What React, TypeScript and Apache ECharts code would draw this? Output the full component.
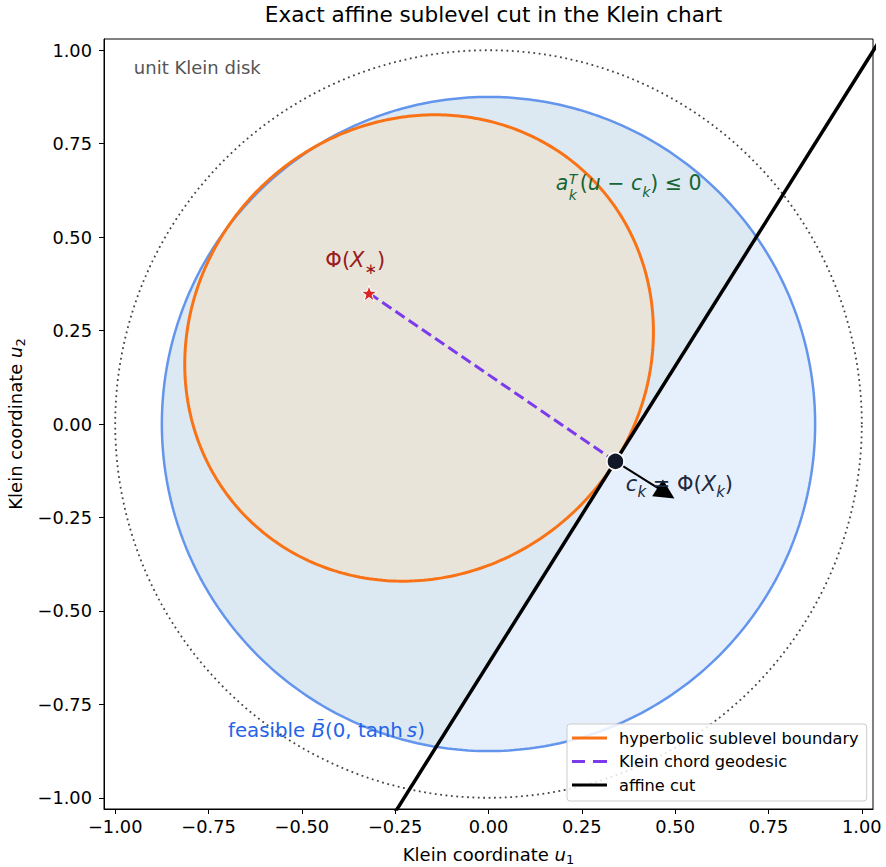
import React, { useEffect, useRef } from "react";
import * as echarts from "echarts";

// ---------- data ----------
const X_TICKS = [-1, -0.75, -0.5, -0.25, 0, 0.25, 0.5, 0.75, 1];
const Y_TICKS = [-1, -0.75, -0.5, -0.25, 0, 0.25, 0.5, 0.75, 1];
const AXIS_MIN = -1.03;
const AXIS_MAX = 1.03;
const UNIT_RADIUS = 1.0;
const FEASIBLE_RADIUS = 0.875; // tanh s
const PHI_XSTAR = [-0.32, 0.35]; // hyperbolic centre of the sublevel set
const C_K = [0.34, -0.1]; // query point on the sublevel boundary
const ARROW_LENGTH = 0.16;
const LEGEND_NAMES = ["hyperbolic sublevel boundary", "Klein chord geodesic", "affine cut"];
const LABEL_UNIT = [-0.95, 0.955];
const LABEL_HALFSPACE = [0.18, 0.644];
const LABEL_XSTAR = [-0.437, 0.438];
const LABEL_CK = [0.368, -0.16];
const LABEL_FEASIBLE = [-0.698, -0.821];

const FONT = "DejaVu Sans";

// ---------- geometry helpers ----------
const dot = (a: number[], b: number[]) => a[0] * b[0] + a[1] * b[1];

function circlePoints(r: number, n = 400): number[][] {
  const pts: number[][] = [];
  for (let i = 0; i <= n; i++) {
    const t = (2 * Math.PI * i) / n;
    pts.push([r * Math.cos(t), r * Math.sin(t)]);
  }
  return pts;
}

// Klein-model hyperbolic ball centred at p whose boundary passes through q0
function kleinBall(p: number[], q0: number[], n = 400) {
  const A = 1 - dot(p, p);
  const C2 = Math.pow(1 - dot(p, q0), 2) / (A * (1 - dot(q0, q0)));
  const K = C2 * A;
  const pts: number[][] = [];
  for (let i = 0; i <= n; i++) {
    const th = (2 * Math.PI * i) / n;
    const v = [Math.cos(th), Math.sin(th)];
    const b = dot(p, v);
    const a2 = b * b + K;
    const a1 = 2 * b * (K - A);
    const a0 = A * (A - K);
    const t = (-a1 + Math.sqrt(a1 * a1 - 4 * a2 * a0)) / (2 * a2);
    pts.push([p[0] + t * v[0], p[1] + t * v[1]]);
  }
  const grad = [
    -2 * (1 - dot(p, q0)) * p[0] + 2 * K * q0[0],
    -2 * (1 - dot(p, q0)) * p[1] + 2 * K * q0[1],
  ];
  const gl = Math.hypot(grad[0], grad[1]);
  return { pts, normal: [grad[0] / gl, grad[1] / gl] };
}

function clipHalfPlane(poly: number[][], n: number[], c: number[]) {
  const f = (q: number[]) => n[0] * (q[0] - c[0]) + n[1] * (q[1] - c[1]);
  const out: number[][] = [];
  for (let i = 0; i < poly.length; i++) {
    const a = poly[i];
    const b = poly[(i + 1) % poly.length];
    const fa = f(a);
    const fb = f(b);
    if (fa <= 0) out.push(a);
    if ((fa <= 0) !== (fb <= 0)) {
      const t = fa / (fa - fb);
      out.push([a[0] + t * (b[0] - a[0]), a[1] + t * (b[1] - a[1])]);
    }
  }
  return out;
}

const unitCircle = circlePoints(UNIT_RADIUS);
const feasibleCircle = circlePoints(FEASIBLE_RADIUS);
const ball = kleinBall(PHI_XSTAR, C_K);
const normal = ball.normal;
const cutDir = [-normal[1], normal[0]];
const cutLine = [
  [C_K[0] - 4 * cutDir[0], C_K[1] - 4 * cutDir[1]],
  [C_K[0] + 4 * cutDir[0], C_K[1] + 4 * cutDir[1]],
];
const halfDisk = clipHalfPlane(feasibleCircle, normal, C_K);
const arrowTip = [C_K[0] + ARROW_LENGTH * normal[0], C_K[1] + ARROW_LENGTH * normal[1]];

// ---------- text helpers ----------
function richSet(color: string, size: number, lhFactor = 1.5) {
  const lh = Math.round(size * lhFactor);
  const small = Math.round(size * 0.7);
  return {
    n: { fontFamily: FONT, fontSize: size, color, lineHeight: lh },
    i: { fontFamily: FONT, fontSize: size, color, fontStyle: "italic", lineHeight: lh },
    sub: { fontFamily: FONT, fontSize: small, color, fontStyle: "italic", verticalAlign: "bottom", lineHeight: lh },
    subn: { fontFamily: FONT, fontSize: small, color, verticalAlign: "bottom", lineHeight: lh },
    tiny: { fontFamily: FONT, fontSize: small, color, fontStyle: "italic", lineHeight: 11 },
  };
}

function textItem(pos: number[], formatter: string, color: string, size: number, offset = [0, 0]) {
  return {
    value: pos,
    label: {
      show: true,
      position: "right",
      distance: 0,
      offset,
      formatter,
      color,
      opacity: 1,
      fontFamily: FONT,
      fontSize: size,
      rich: richSet(color, size),
    },
  };
}

const tickFmt = (v: number) => (v < 0 ? "\u2212" : "") + Math.abs(v).toFixed(2);

const STAR_PATH =
  "path://M12,0 L14.8,8.3 L23.5,8.4 L16.5,13.6 L19.1,22 L12,16.9 L4.9,22 L7.5,13.6 L0.5,8.4 L9.2,8.3 Z";
const ICON_SOLID = "path://M0,0H35V3H0Z";
const ICON_DASHED = "path://M0,0H13V3H0Z M21,0H35V3H21Z";

const GREEN = "#166534";

export default function App() {
  const ref = useRef<HTMLDivElement>(null);
  useEffect(() => {
    if (!ref.current) return;
    const chart = echarts.init(ref.current, null, { renderer: "svg" });
    const axisCommon = {
      type: "value",
      min: AXIS_MIN,
      max: AXIS_MAX,
      splitLine: { show: false },
      axisLine: { show: true, onZero: false, lineStyle: { color: "#000", width: 1 } },
      nameLocation: "middle",
      nameTextStyle: {
        fontFamily: FONT,
        fontSize: 18,
        color: "#000",
        lineHeight: 23,
        rich: richSet("#000", 18, 1.3),
      },
    };
    chart.setOption({
      animation: false,
      backgroundColor: "#fff",
      title: {
        text: "Exact affine sublevel cut in the Klein chart",
        left: 488.5,
        top: -2,
        textAlign: "center",
        textStyle: { fontFamily: FONT, fontSize: 21.6, fontWeight: "normal", color: "#000" },
      },
      grid: {
        left: 104,
        top: 39,
        right: 13,
        bottom: 58,
        outerBoundsMode: "none",
        containLabel: false,
        show: true,
        borderColor: "#000",
        borderWidth: 1,
        backgroundColor: "transparent",
      },
      xAxis: {
        ...axisCommon,
        name: "Klein coordinate {i|u}{subn|1}",
        nameGap: 34,
        axisTick: { show: true, customValues: X_TICKS, length: 5, lineStyle: { color: "#000" } },
        axisLabel: {
          customValues: X_TICKS,
          formatter: tickFmt,
          fontFamily: FONT,
          fontSize: 17.8,
          color: "#000",
          margin: 8,
        },
      },
      yAxis: {
        ...axisCommon,
        name: "Klein coordinate {i|u}{subn|2}",
        nameGap: 73,
        nameRotate: 90,
        axisTick: { show: true, customValues: Y_TICKS, length: 5, lineStyle: { color: "#000" } },
        axisLabel: {
          customValues: Y_TICKS,
          formatter: tickFmt,
          fontFamily: FONT,
          fontSize: 17.8,
          color: "#000",
          margin: 12,
        },
      },
      legend: {
        data: [
          { name: LEGEND_NAMES[0], icon: ICON_SOLID },
          { name: LEGEND_NAMES[1], icon: ICON_DASHED },
          { name: LEGEND_NAMES[2], icon: ICON_SOLID },
        ],
        orient: "vertical",
        left: 567,
        top: 724,
        padding: [5, 8, 7, 5],
        itemWidth: 35,
        itemHeight: 3.5,
        itemGap: 5.5,
        borderColor: "#cccccc",
        borderWidth: 1,
        borderRadius: 3,
        backgroundColor: "rgba(255,255,255,0.85)",
        textStyle: { fontFamily: FONT, fontSize: 16.2, color: "#000", lineHeight: 18, padding: [0, 0, 0, 7] },
      },
      series: [
        {
          type: "custom",
          name: "fills",
          silent: true,
          z: 1,
          clip: true,
          data: [[0, 0]],
          renderItem: (_params: any, api: any) => {
            const px = (pts: number[][]) => pts.map((p) => api.coord(p));
            return {
              type: "group",
              children: [
                { type: "polygon", shape: { points: px(feasibleCircle) }, style: { fill: "#e6effc" } },
                { type: "polygon", shape: { points: px(halfDisk) }, style: { fill: "#dce9f3" } },
                { type: "polygon", shape: { points: px(ball.pts) }, style: { fill: "#e8e4da" } },
              ],
            };
          },
        },
        {
          type: "line",
          name: "unit disk",
          data: unitCircle,
          symbol: "none",
          silent: true,
          z: 2,
          lineStyle: { color: "#444", width: 1.8, type: [1.8, 3.6] },
        },
        {
          type: "line",
          name: "feasible ball",
          data: feasibleCircle,
          symbol: "none",
          silent: true,
          z: 3,
          lineStyle: { color: "#6495ed", width: 2.5 },
        },
        {
          type: "line",
          name: LEGEND_NAMES[0],
          data: ball.pts,
          symbol: "none",
          silent: true,
          z: 4,
          color: "#f97316",
          lineStyle: { color: "#f97316", width: 3 },
        },
        {
          type: "line",
          name: LEGEND_NAMES[2],
          data: cutLine,
          symbol: "none",
          silent: true,
          clip: true,
          z: 5,
          color: "#000",
          lineStyle: { color: "#000", width: 3.5 },
        },
        {
          type: "line",
          name: LEGEND_NAMES[1],
          data: [PHI_XSTAR, C_K],
          symbol: "none",
          silent: true,
          z: 6,
          color: "#7c3aed",
          lineStyle: { color: "#7c3aed", width: 3, type: [11, 5] },
        },
        {
          type: "lines",
          coordinateSystem: "cartesian2d",
          silent: true,
          z: 7,
          data: [{ coords: [C_K, arrowTip] }],
          symbol: ["none", "triangle"],
          symbolSize: [13, 20],
          lineStyle: { color: "#000", width: 2, opacity: 1 },
          itemStyle: { color: "#000" },
        },
        {
          type: "scatter",
          name: "ck",
          silent: true,
          z: 8,
          data: [C_K],
          symbol: "circle",
          symbolSize: 17,
          itemStyle: { color: "#111827", borderColor: "#fff", borderWidth: 1.5, opacity: 1 },
        },
        {
          type: "scatter",
          name: "xstar",
          silent: true,
          z: 8,
          data: [PHI_XSTAR],
          symbol: STAR_PATH,
          symbolSize: 16,
          itemStyle: { color: "#dc2626", borderColor: "#fff", borderWidth: 1, opacity: 1 },
        },
        {
          type: "scatter",
          name: "labels",
          silent: true,
          z: 9,
          symbolSize: 0,
          itemStyle: { color: "rgba(0,0,0,0)", opacity: 1 },
          data: [
            textItem(LABEL_UNIT, "{n|unit Klein disk}", "#555555", 18),
            textItem(LABEL_HALFSPACE, "{i|a}", GREEN, 20.5),
            textItem(LABEL_HALFSPACE, "{tiny|T}", GREEN, 20.5, [13, -4.5]),
            textItem(LABEL_HALFSPACE, "{tiny|k}", GREEN, 20.5, [13, 11.5]),
            textItem(LABEL_HALFSPACE, "{n|(}{i|u}{n| \u2212 }{i|c}{sub|k}{n|) \u2264 0}", GREEN, 20.5, [24, 0]),
            textItem(LABEL_XSTAR, "{n|\u03a6(}{i|X}{subn|\u2217}{n|)}", "#991b1b", 21),
            textItem(LABEL_CK, "{i|c}{sub|k}{n| = \u03a6(}{i|X}{sub|k}{n|)}", "#1e293b", 21),
            textItem(LABEL_FEASIBLE, "{n|feasible }{i|B\u0304}{n|(0, tanh\u2009}{i|s}{n|)}", "#2563eb", 19.8),
          ],
        },
      ],
    });
    return () => chart.dispose();
  }, []);
  return <div ref={ref} style={{ position: "fixed", left: 0, top: 0, width: 886, height: 867 }} />;
}
